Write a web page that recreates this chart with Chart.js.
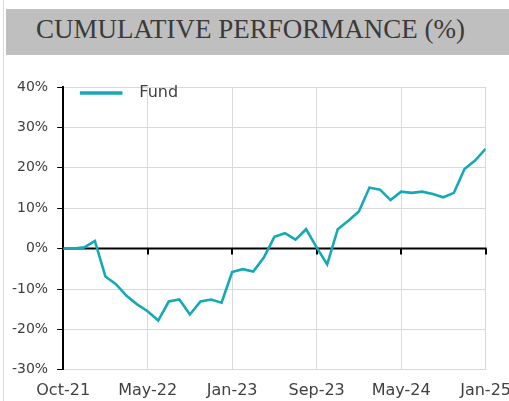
<!DOCTYPE html>
<html>
<head>
<meta charset="utf-8">
<script src="https://cdn.jsdelivr.net/npm/chart.js@4"></script>
<style>
  html, body { margin: 0; padding: 0; background: #fff; overflow: hidden; }
  body { width: 509px; height: 401px; position: relative; }
  .frame { position: absolute; left: 3px; top: 0; width: 1px; height: 401px; background: #d9d9d9; }
  .title-bar {
    position: absolute; left: 6px; top: 9px; width: 503px; height: 46px;
    background: #bfbfbf;
  }
  .title-bar span {
    position: absolute; left: 30px; top: 5px;
    font-family: "Liberation Serif", serif; font-size: 27px; color: #3a3a3a;
    white-space: nowrap;
  }
  .chart-box { position: absolute; left: 0; top: 67px; width: 522px; height: 348px; }
</style>
</head>
<body>
<div class="frame"></div>
<div class="title-bar"><span>CUMULATIVE PERFORMANCE (%)</span></div>
<div class="chart-box"><canvas id="perfChart"></canvas></div>
<script>
// tick labels along the bottom (one every 8 monthly points)
const tickLabels = ['Oct-21', 'May-22', 'Jan-23', 'Sep-23', 'May-24', 'Jan-25'];
// cumulative fund performance, %, monthly points
const fundValues = [0, 0, 0.3, 1.9, -6.9, -8.8, -11.7, -13.8, -15.5, -17.8,
    -13.1, -12.6, -16.3, -13.1, -12.6, -13.4, -5.8, -5.1, -5.7, -2.2,
    2.9, 3.8, 2.2, 4.8, 0.3, -3.9, 4.8, 6.9, 9.2, 15.1,
    14.6, 12.0, 14.1, 13.8, 14.1, 13.5, 12.7, 13.8, 19.7, 21.8, 24.7];
const yMin = -30, yMax = 40, yStep = 10;

const teal = '#14a9b6';
const gridGray = '#d9d9d9';
const textGray = '#404040';

// black zero line with small ticks hanging below it
const zeroAxis = {
    id: 'zeroAxis',
    beforeDatasetsDraw(chart) {
        const { ctx, scales: { x, y } } = chart;
        const y0 = y.getPixelForValue(0);
        ctx.save();
        ctx.strokeStyle = '#000';
        ctx.lineWidth = 2;
        ctx.beginPath();
        ctx.moveTo(x.left, y0);
        ctx.lineTo(x.right + 1, y0);
        x.ticks.forEach(t => {
            const px = Math.round(x.getPixelForValue(t.value));
            ctx.moveTo(px, y0);
            ctx.lineTo(px, y0 + 6);
        });
        ctx.stroke();
        ctx.restore();
    }
};

new Chart(document.getElementById('perfChart'), {
    type: 'line',
    data: {
        datasets: [{
            label: 'Fund',
            data: fundValues.map((v, i) => ({ x: i, y: v })),
            borderColor: teal,
            backgroundColor: teal,
            borderWidth: 2.6,
            pointRadius: 0,
            tension: 0
        }]
    },
    options: {
        responsive: true,
        maintainAspectRatio: false,
        animation: false,
        layout: { padding: { top: 20, left: 3, right: 0, bottom: 4 } },
        plugins: {
            legend: {
                position: 'chartArea',
                align: 'start',
                labels: {
                    boxWidth: 40,
                    boxHeight: 1,
                    padding: 18,
                    color: textGray,
                    font: { family: 'DejaVu Sans', size: 16 },
                    generateLabels(chart) {
                        return Chart.defaults.plugins.legend.labels.generateLabels(chart)
                            .map(item => ({ ...item, text: '  ' + item.text }));
                    }
                }
            },
            tooltip: { enabled: false }
        },
        scales: {
            x: {
                type: 'linear',
                min: 0,
                max: fundValues.length - 1,
                grid: { color: gridGray, drawTicks: false },
                border: { display: false },
                ticks: {
                    stepSize: 8,
                    padding: 11,
                    color: textGray,
                    font: { family: 'DejaVu Sans', size: 16 },
                    maxRotation: 0,
                    callback: v => tickLabels[v / 8]
                }
            },
            y: {
                min: yMin,
                max: yMax,
                grid: { color: gridGray, tickColor: '#000', tickLength: 6 },
                border: { color: '#000', width: 2 },
                ticks: {
                    stepSize: yStep,
                    padding: 9,
                    color: textGray,
                    font: { family: 'DejaVu Sans', size: 14 },
                    callback: v => v + '%'
                }
            }
        }
    },
    plugins: [zeroAxis]
});
</script>
</body>
</html>
